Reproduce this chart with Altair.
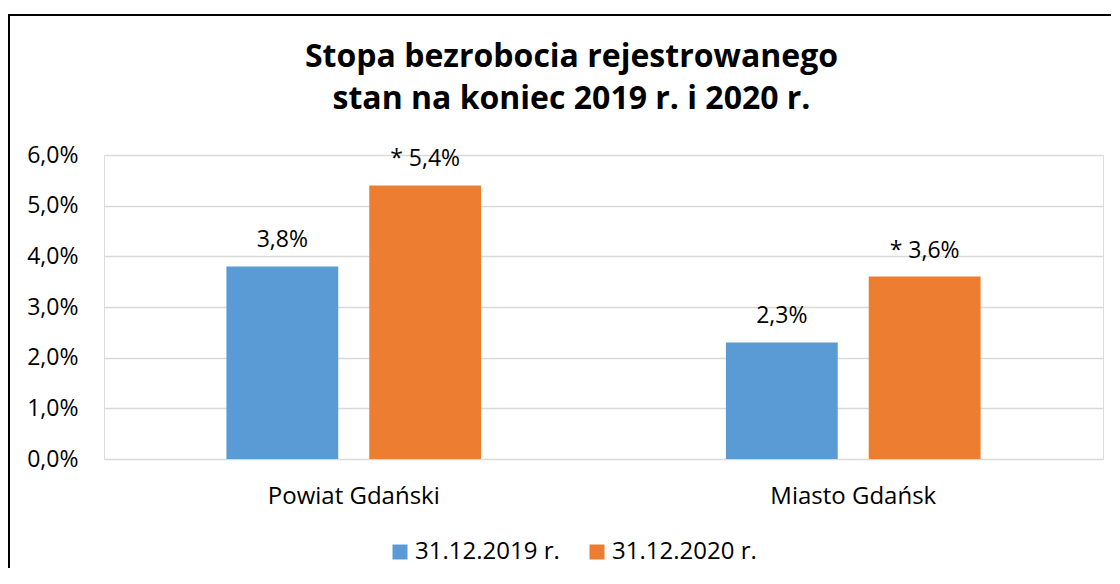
import altair as alt
import pandas as pd

# ---- data ----
categories = ["Powiat Gdański", "Powiat Gdański", "Miasto Gdańsk", "Miasto Gdańsk"]
series = ["31.12.2019 r.", "31.12.2020 r.", "31.12.2019 r.", "31.12.2020 r."]
values = [3.8, 5.4, 2.3, 3.6]
labels = ["3,8%", "* 5,4%", "2,3%", "* 3,6%"]
category_order = ["Powiat Gdański", "Miasto Gdańsk"]
series_order = ["31.12.2019 r.", "31.12.2020 r."]
colors = ["#5B9BD5", "#ED7D31"]
y_ticks = [0, 1, 2, 3, 4, 5, 6]
title_lines = ["Stopa bezrobocia rejestrowanego", "stan na koniec 2019 r. i 2020 r."]

df = pd.DataFrame({"category": categories, "series": series, "value": values, "label": labels})

FONT = "Open Sans"

x_enc = alt.X(
    "category:N", sort=category_order,
    scale=alt.Scale(paddingInner=0, paddingOuter=0),
    axis=alt.Axis(title=None, labelAngle=0, domain=False, ticks=False, labelPadding=25,
                  labelFontSize=24, labelFont=FONT, labelColor="black", labelBaseline="top"),
)
xo_enc = alt.XOffset("series:N", sort=series_order,
                     scale=alt.Scale(paddingInner=0.217, paddingOuter=0.857))
y_enc = alt.Y(
    "value:Q",
    scale=alt.Scale(domain=[0, 6], nice=False),
    axis=alt.Axis(title=None, values=y_ticks,
                  labelExpr="replace(format(datum.value, '.1f'), '.', ',') + '%'",
                  domain=False, ticks=False, labelPadding=26, grid=True,
                  gridColor="#D9D9D9", gridWidth=1.3,
                  labelFontSize=23, labelFont=FONT, labelColor="black"),
)
color_enc = alt.Color(
    "series:N", sort=series_order,
    scale=alt.Scale(domain=series_order, range=colors),
    legend=alt.Legend(title=None, orient="none", legendX=284, legendY=385,
                      direction="horizontal", symbolType="square", symbolSize=225,
                      symbolStrokeWidth=0, symbolOpacity=1, labelFontSize=24,
                      labelFont=FONT, labelColor="black", labelOffset=3,
                      columnPadding=25, padding=0),
)

bars = alt.Chart(df).mark_bar(opacity=1).encode(x=x_enc, xOffset=xo_enc, y=y_enc, color=color_enc)

text = alt.Chart(df).mark_text(baseline="alphabetic", dy=-19, fontSize=23, font=FONT, color="black").encode(
    x=alt.X("category:N", sort=category_order),
    xOffset=alt.XOffset("series:N", sort=series_order),
    y="value:Q",
    text="label:N",
)

border = alt.Chart(pd.DataFrame({"k": [0]})).mark_rect(
    fillOpacity=0, stroke="black", strokeWidth=2, clip=False
).encode(x=alt.value(-95), x2=alt.value(1100), y=alt.value(-140), y2=alt.value(500))

chart = alt.layer(border, bars, text).properties(
    width=999, height=304,
    autosize="none",
    padding={"left": 96, "top": 147, "right": 8, "bottom": 109},
    title=alt.TitleParams(title_lines, font=FONT, fontSize=32, fontWeight="bold", color="black",
                          anchor="middle", frame="group", dx=-32, lineHeight=42, offset=0,
                          baseline="alphabetic", dy=127),
).configure_view(strokeWidth=0).configure(background="white")

chart.save("out.html", embed_options={"renderer": "svg", "actions": False})
